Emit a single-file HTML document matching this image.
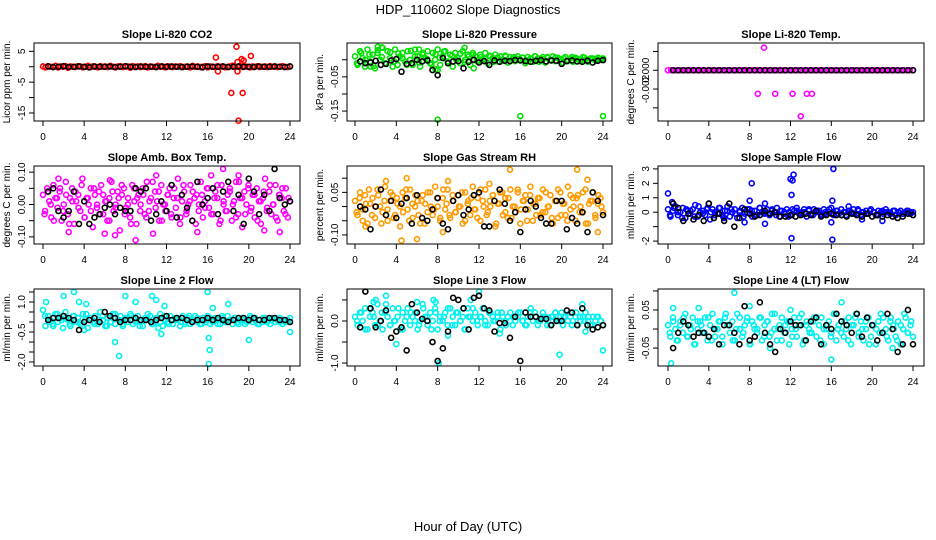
<!DOCTYPE html>
<html><head><meta charset="utf-8"><style>
body{margin:0;background:#fff;}
svg{display:block;font-family:"Liberation Sans",sans-serif;}
</style></head><body>
<svg id="c" width="936" height="540" xmlns="http://www.w3.org/2000/svg">
<text x="468" y="14" text-anchor="middle" font-size="13">HDP_110602  Slope Diagnostics</text>
<text x="468" y="531" text-anchor="middle" font-size="13">Hour of Day (UTC)</text>
</svg>
<script>
const xTicks=[0,4,8,12,16,20,24];
// Panel 1 CO2
const p1Col=[0.1,-0.2,0.2,0.0,-0.1,0.3,-0.2,0.1,0.0,0.2,-0.3,0.1,0.0,-0.1,0.2,0.1,-0.2,0.0,0.3,-0.1,0.1,0.0,-0.2,0.2,0.0,0.1,-0.1,0.3,0.0,-0.2,0.1,0.2,-0.1,0.0,0.1,-0.3,0.2,0.0,0.1,-0.1,0.0,0.2,-0.2,0.1,0.0,-0.1,0.3,0.0,0.1,-0.2,0.2,0.0,-0.1,0.1,0.0,0.2,-0.1,0.0,0.1,-0.2,0.3,0.0,0.1,-0.1,0.0,0.2,-0.2,0.1,0.0,-0.1,0.2,0.0,0.1,-0.2,0.0,0.1,0.3,-0.1,0.0,0.2,-0.1,0.1,0.0,-0.2,0.1,0.0,0.2,-0.1,0.0,0.1,-0.1,0.2,0.0,0.1,-0.1,0.0,0.2,0.0,-0.1,0.1];
const p1Col2=[];
const p1OutH=[16.8,17.0,18.3,18.8,18.9,18.9,19.3,19.4,19.5,20.2,19.0];
const p1OutV=[3,-1.5,-8.5,6.5,1.5,-1.5,2.5,-8.5,2,3.5,-17.5];
const p1Blk=[0.1,-0.1,0,0.2,-0.1,0,0.1,0,-0.2,0.1,0,0,0.1,-0.1,0,0.2,0,-0.1,0.1,0,0,-0.1,0.1,0,0.1,0,-0.1,0,0.1,0,-0.2,0.1,0,0,0.1,-0.1,0,0.1,0,0,-0.1,0.1,0,0,0.1,0,-0.1,0.1];
// Panel 2 Pressure
const p2Col=[0.010,-0.015,0.025,0.005,-0.020,0.030,-0.005,0.015,-0.025,0.020,0.000,0.035,-0.010,0.025,0.005,-0.020,0.030,-0.015,0.010,0.020,-0.005,0.025,0.000,-0.015,0.030,0.010,-0.020,0.015,0.005,0.025,-0.010,0.020,0.000,0.030,-0.015,0.010,0.025,-0.005,0.015,-0.020,0.020,0.005,-0.010,0.025,0.000,0.015,-0.015,0.020,0.010,-0.005,0.015,0.000,0.020,-0.010,0.010,0.005,0.015,-0.005,0.010,0.000,0.012,-0.008,0.008,0.004,-0.004,0.010,0.000,0.006,-0.010,0.008,0.002,-0.006,0.010,0.004,-0.002,0.008,-0.008,0.006,0.000,0.010,-0.004,0.006,0.002,-0.008,0.008,0.000,0.004,-0.006,0.006,0.002,-0.004,0.008,0.000,-0.006,0.004,0.002,-0.002,0.006,0.000,0.004];
const p2Col2=[-0.010,0.020,0.000,0.015,-0.018,0.028,0.008,-0.012,0.022,-0.005,0.018,0.004,-0.015,0.026,0.010,-0.008,0.020,0.002,-0.014,0.016,0.006,0.024,-0.010,0.012,0.000,0.018,-0.006,0.010,0.014,-0.004,0.008,0.002,0.012,-0.006,0.006,0.000,0.010,-0.004,0.008,0.002,0.006,-0.002,0.004,0.010,-0.006,0.002,0.008,-0.002,0.006,0.000,0.004,-0.004,0.008,0.002,0.000,0.006,-0.002,0.004,0.002,0.000];
const p2OutH=[8,16,24,2.2,2.6,6.2,10.6,8,7.8,1.5,11.5];
const p2OutV=[-0.175,-0.165,-0.165,0.038,0.036,0.03,0.035,-0.03,-0.028,-0.02,-0.025];
const p2Blk=[-0.005,-0.01,-0.008,-0.003,-0.015,-0.012,-0.002,0.002,-0.035,-0.012,-0.01,0.0,-0.005,-0.002,-0.03,-0.045,0.005,-0.01,-0.005,-0.004,-0.025,-0.006,0.0,-0.008,-0.004,-0.015,-0.002,-0.006,-0.003,-0.004,-0.001,-0.002,-0.004,-0.006,-0.003,-0.001,-0.005,-0.002,-0.003,-0.012,-0.004,-0.002,-0.005,-0.006,-0.003,-0.008,-0.003,-0.001];
// Panel 3 Temp
const p3Col=[0,0,0,0,0,0,0,0,0,0,0,0,0,0,0,0,0,0,0,0,0,0,0,0,0,0,0,0,0,0,0,0,0,0,0,0,0,0,0,0,0,0,0,0,0,0,0,0,0,0,0,0,0,0,0,0,0,0,0,0,0,0,0,0,0,0,0,0,0,0,0,0,0,0,0,0,0,0,0,0];
const p3Col2=[];
const p3OutH=[8.8,10.5,12.2,13.6,14.1,9.4,13.0];
const p3OutV=[-0.0025,-0.0025,-0.0025,-0.0025,-0.0025,0.0024,-0.0049];
const p3Blk=[0,0,0,0,0,0,0,0,0,0,0,0,0,0,0,0,0,0,0,0,0,0,0,0,0,0,0,0,0,0,0,0,0,0,0,0,0,0,0,0,0,0,0,0,0,0,0,0];
// Panel 4 Amb box temp
const p4Col=[0.03,-0.02,0.05,0.01,-0.04,0.06,0.02,-0.01,0.04,-0.05,0.00,0.07,-0.03,0.02,0.05,-0.06,0.01,0.03,-0.02,0.08,-0.04,0.02,0.00,0.05,-0.07,0.03,-0.01,0.04,0.06,-0.03,0.01,-0.05,0.02,0.07,-0.02,0.00,0.04,-0.08,0.03,0.05,-0.01,0.02,-0.04,0.06,0.01,-0.06,0.03,0.00,0.05,-0.03,0.07,-0.02,0.02,-0.09,0.04,0.01,-0.05,0.06,0.00,-0.02,0.03,0.05,-0.04,0.02,-0.01,0.08,-0.06,0.01,0.04,-0.03,0.00,0.06,-0.05,0.02,0.03,-0.02,0.07,-0.04,0.01,0.05,-0.01,0.09,-0.03,0.04,0.02,-0.06,0.06,0.00,-0.02,0.03,0.05,-0.05,0.01,0.07,-0.03,0.02,-0.07,0.04,0.00,0.06,-0.02,0.03,-0.04,0.05,0.01,-0.06,0.02,0.08,-0.01,0.04,-0.03,0.00,0.06,-0.05,0.03,0.02,-0.02,0.05,-0.04,0.01];
const p4Col2=[-0.03,0.04,0.00,-0.05,0.02,0.05,-0.02,0.03,-0.06,0.01,0.04,-0.01,0.06,-0.04,0.02,-0.02,0.05,0.00,-0.03,0.03,0.01,-0.05,0.04,-0.01,0.02,0.06,-0.03,0.00,-0.06,0.05,0.02,-0.02,0.03,-0.04,0.01,0.07,-0.01,0.04,-0.05,0.00,0.03,-0.03,0.05,0.02,-0.04,0.06,-0.02,0.01,0.04,-0.06,0.00,0.03,-0.01,0.05,-0.03,0.02,0.06,-0.05,0.01,-0.02,0.04,0.00,-0.04,0.07,0.02,-0.03,0.05,-0.01,0.03,-0.05,0.01,0.04,-0.02,0.06,0.00,-0.04,0.03,0.05,-0.03,0.02];
const p4OutH=[2.5,6,7,9,11,15,17.5,21.5,6.5,1.5,19,23];
const p4OutV=[-0.085,-0.09,-0.095,-0.11,0.09,-0.085,0.11,-0.08,0.075,0.08,0.09,-0.085];
const p4Blk=[0.04,0.05,-0.02,-0.04,-0.02,0.04,-0.06,0.01,-0.06,-0.04,-0.03,-0.01,0.00,-0.03,-0.01,-0.02,-0.02,0.05,0.04,0.05,-0.05,-0.03,0.01,-0.02,0.06,-0.04,0.03,-0.01,-0.05,0.07,0.00,0.02,0.05,-0.03,0.04,0.07,-0.02,0.03,-0.06,0.08,0.04,-0.03,0.03,-0.02,0.11,0.02,0.00,0.01];
// Panel 5 RH
const p5Col=[0.02,-0.03,0.05,-0.01,0.04,-0.06,0.01,0.03,-0.04,0.06,0.00,-0.02,0.07,-0.05,0.02,0.04,-0.03,0.01,-0.07,0.05,0.03,-0.01,0.06,-0.04,0.00,0.02,-0.06,0.04,0.01,-0.02,0.05,-0.03,0.07,0.00,-0.05,0.03,-0.01,0.06,-0.04,0.02,-0.02,0.04,0.00,-0.06,0.05,0.01,-0.03,0.07,-0.01,0.03,-0.05,0.02,0.06,-0.02,0.00,0.04,-0.07,0.01,0.05,-0.03,0.03,-0.04,0.06,0.00,-0.02,0.05,-0.06,0.02,0.04,-0.01,0.07,-0.05,0.01,0.03,-0.03,0.06,-0.02,0.00,0.04,-0.06,0.02,-0.04,0.05,0.01,-0.03,0.07,-0.01,0.03,-0.05,0.04,0.00,-0.02,0.06,-0.06,0.02,0.05,-0.04,0.01,0.03,-0.02];
const p5Col2=[-0.02,0.03,-0.05,0.01,0.06,-0.03,0.00,0.04,-0.06,0.02,-0.01,0.05,-0.04,0.03,0.00,-0.02,0.06,-0.05,0.01,0.04,-0.03,0.02,-0.06,0.05,0.00,-0.01,0.03,-0.04,0.06,0.01,-0.03,0.04,-0.02,0.00,0.05,-0.05,0.02,0.03,-0.01,-0.04,0.06,0.00,-0.03,0.02,0.04,-0.06,0.01,0.05,-0.02,0.03,-0.04,0.00,0.06,-0.01,0.02,-0.05,0.04,0.01,-0.03,0.03,-0.02,0.05,0.00,-0.04,0.02,0.06,-0.03,0.01,-0.05,0.04,0.00,0.03,-0.02,0.05,-0.06,0.01,0.02,-0.03,0.04,0.00];
const p5OutH=[3,4.5,5,6,9,8.5,15,21.5,22.5,23.5,1,13];
const p5OutV=[0.09,-0.12,0.1,-0.115,0.09,-0.09,0.13,0.13,0.095,-0.09,-0.07,0.08];
const p5Blk=[0.00,-0.01,-0.08,0.00,0.06,-0.03,0.02,-0.04,0.01,0.03,-0.06,0.04,-0.04,-0.05,-0.01,0.03,-0.06,-0.08,0.02,0.04,-0.03,-0.01,0.04,0.05,-0.07,-0.07,0.02,0.06,0.01,-0.05,-0.02,-0.09,-0.01,0.02,0.00,-0.04,-0.06,-0.06,0.02,0.02,-0.08,-0.04,-0.06,-0.02,-0.09,0.05,0.02,-0.03];
// Panel 6 Sample flow
const p6Col=[0.2,-0.3,0.1,0.4,-0.2,0.0,0.3,-0.4,0.1,-0.1,0.2,0.5,-0.3,0.0,0.1,-0.2,0.3,-0.5,0.2,0.0,-0.1,0.3,-0.2,0.1,0.4,-0.3,0.0,0.2,-0.4,0.1,0.3,-0.1,0.0,0.2,-0.3,0.1,-0.2,0.3,0.0,-0.1,0.2,-0.2,0.1,0.0,0.3,-0.3,0.1,-0.1,0.2,0.0,-0.2,0.1,0.3,-0.1,0.0,0.2,-0.3,0.1,-0.1,0.2,0.0,0.1,-0.2,0.2,-0.1,0.0,0.3,-0.2,0.1,-0.1,0.2,0.0,-0.2,0.1,0.0,0.2,-0.1,0.1,-0.2,0.0,0.1,-0.1,0.2,0.0,-0.2,0.1,0.0,-0.1,0.2,0.0,-0.1,0.1,-0.2,0.0,0.1,-0.1,0.0,0.1,-0.1,0.0];
const p6Col2=[-0.2,0.3,0.0,-0.4,0.2,0.1,-0.3,0.4,-0.1,0.2,0.0,-0.2,0.3,-0.3,0.1,0.2,-0.1,0.0,-0.3,0.2,0.1,-0.2,0.3,0.0,-0.1,0.2,-0.2,0.1,0.0,-0.3,0.2,0.1,-0.1,0.0,0.2,-0.2,0.1,-0.1,0.0,0.2,-0.1,0.1,-0.2,0.0,0.1,-0.1,0.2,0.0,-0.1,0.1,0.0,-0.2,0.1,0.0,-0.1,0.1,0.0,-0.1,0.1,0.0];
const p6OutH=[0,0.4,8.2,8,12,12.3,12.2,12.1,12.1,16,16.2,16.1,16.1,9.5,4,5.5,7.5,9.5,17.7,19,21];
const p6OutV=[1.3,0.7,2.0,0.8,2.3,2.6,2.2,1.2,-1.8,-0.7,3.0,-1.9,0.8,0.6,0.6,-0.4,-0.7,-0.8,0.4,-0.5,-0.6];
const p6Blk=[0.6,0.3,-0.6,-0.1,-0.5,-0.2,-0.6,0.6,-0.4,-0.1,-0.6,0.6,-1.0,-0.4,0.2,-0.1,-0.3,-0.2,0.1,-0.1,0.0,-0.3,-0.3,-0.2,-0.3,-0.2,-0.1,-0.2,0.1,-0.3,-0.2,-0.1,-0.2,-0.2,-0.3,-0.1,-0.2,-0.3,-0.1,-0.3,-0.2,-0.3,-0.2,-0.3,-0.4,-0.3,-0.1,-0.2];
// Panel 7 Line 2 flow
const p7Col=[0.6,-0.2,0.3,0.1,-0.1,0.4,0.0,0.2,-0.3,0.5,0.1,-0.2,0.3,0.0,0.2,-0.1,0.4,0.1,-0.3,0.2,0.0,0.3,-0.1,0.5,0.1,-0.2,0.2,0.0,0.4,-0.1,0.1,0.3,-0.2,0.2,0.0,0.4,-0.1,0.1,0.3,0.0,-0.2,0.2,0.1,0.3,-0.1,0.0,0.2,0.4,-0.2,0.1,0.0,0.3,-0.1,0.2,0.1,-0.2,0.3,0.0,0.2,-0.1,0.1,0.3,0.0,-0.1,0.2,0.1,0.3,-0.1,0.0,0.2,0.1,-0.1,0.2,0.0,0.3,0.1,-0.1,0.2,0.0,0.1,0.2,-0.1,0.1,0.3,0.0,0.2,-0.1,0.1,0.0,0.2,0.1,-0.1,0.2,0.0,0.1,0.2,-0.1,0.0,0.1,0.2];
const p7Col2=[0.3,0.0,-0.2,0.4,0.1,0.2,-0.1,0.3,0.0,-0.2,0.4,0.2,-0.1,0.1,0.3,-0.2,0.0,0.4,0.1,-0.1,0.2,0.3,0.0,-0.2,0.1,0.4,-0.1,0.2,0.0,0.3,-0.1,0.1,0.2,0.0,-0.1,0.3,0.1,0.2,-0.1,0.0,0.2,0.1,-0.1,0.3,0.0,0.1,0.2,-0.1,0.1,0.0,0.2,0.1,-0.1,0.2,0.0,0.1,0.2,0.0,0.1,0.0];
const p7OutH=[0.3,2,3,3.5,4,4.2,7,7.4,8,9,10.6,11,11.5,11.2,16,16.1,16.2,16.1,16.5,18,20,24,11.8];
const p7OutV=[1.0,1.3,1.5,1.0,-0.4,0.9,-1.0,-1.7,1.3,1.0,1.3,1.1,-0.6,-0.3,1.5,-0.8,-1.4,-2.1,0.7,0.9,-0.9,-0.5,0.8];
const p7Blk=[0.1,0.2,0.2,0.3,0.2,0.1,-0.4,0.0,0.1,0.2,0.0,0.5,0.3,0.2,0.0,0.1,0.1,0.2,0.1,0.1,0.0,0.1,0.2,0.3,0.1,0.2,0.2,0.1,0.0,0.1,0.1,0.2,0.1,0.2,0.1,0.0,0.1,0.2,0.2,0.1,0.2,0.1,0.1,0.2,0.2,0.1,0.1,0.0];
// Panel 8 Line 3 flow
const p8Col=[0.1,-0.1,0.2,0.0,0.3,-0.2,0.1,0.2,-0.1,0.4,0.0,-0.2,0.2,0.1,-0.1,0.3,0.0,0.1,-0.2,0.2,0.0,0.3,-0.1,0.1,0.2,-0.2,0.0,0.4,0.1,-0.1,0.2,0.0,0.3,-0.2,0.1,0.0,0.2,-0.1,0.3,0.1,-0.1,0.2,0.0,0.1,-0.2,0.3,0.1,0.0,0.2,-0.1,0.1,0.3,0.0,-0.1,0.2,0.1,0.0,0.2,-0.2,0.1,0.0,0.1,0.2,-0.1,0.0,0.1,0.2,0.0,-0.1,0.1,0.2,0.0,0.1,-0.1,0.0,0.2,0.1,0.0,-0.1,0.1,0.2,0.0,0.1,-0.1,0.1,0.0,0.2,0.0,0.1,-0.1,0.0,0.1,0.2,0.0,-0.1,0.1,0.0,0.1,0.0,-0.1];
const p8Col2=[0.0,0.2,-0.2,0.3,0.1,-0.1,0.2,0.4,-0.1,0.0,0.3,-0.2,0.1,0.2,0.0,-0.1,0.3,0.1,-0.2,0.2,0.0,0.1,0.3,-0.1,0.2,0.0,-0.2,0.1,0.3,0.0,0.1,-0.1,0.2,0.0,0.1,0.2,-0.1,0.0,0.1,0.2,0.0,-0.1,0.1,0.2,0.0,0.1,-0.1,0.1,0.2,0.0,0.1,0.0,-0.1,0.2,0.1,0.0,0.1,-0.1,0.1,0.0];
const p8OutH=[2,1.8,3,4,6,7.6,7.8,8.1,9,11.2,12,13,14,17,19.8,20,22,22.3,24,10.5];
const p8OutV=[0.5,0.45,0.6,-0.55,0.45,0.5,0.45,-1.0,-0.35,0.5,0.7,0.2,-0.3,0.3,-0.8,0.2,0.4,-0.25,-0.7,0.3];
const p8Blk=[-0.15,0.7,0.3,-0.15,0.0,0.25,-0.4,-0.25,-0.15,-0.7,0.4,0.2,0.05,0.0,-0.5,-0.95,-0.65,-0.25,0.55,0.5,0.3,-0.2,0.55,0.6,0.3,0.25,-0.25,-0.05,-0.05,-0.4,0.1,-0.95,0.2,0.1,0.1,0.05,0.05,-0.1,0.0,0.0,0.25,0.2,-0.1,0.3,-0.1,-0.2,-0.15,-0.1];
// Panel 9 Line 4 flow
const p9Col=[0.01,-0.02,0.03,0.00,-0.03,0.02,-0.01,0.04,-0.02,0.01,0.03,-0.04,0.00,0.02,-0.01,0.03,-0.03,0.01,0.04,-0.02,0.00,0.02,-0.04,0.03,0.01,-0.01,0.02,-0.03,0.04,0.00,-0.02,0.01,0.03,-0.04,0.02,0.00,-0.01,0.03,-0.03,0.01,0.02,-0.02,0.04,0.00,-0.03,0.01,0.03,-0.01,0.02,-0.04,0.00,0.03,-0.02,0.01,0.04,-0.03,0.02,0.00,-0.01,0.03,-0.02,0.01,0.03,-0.04,0.00,0.02,-0.01,0.04,-0.03,0.01,0.02,-0.02,0.00,0.03,-0.04,0.01,0.04,-0.01,0.02,-0.03,0.00,0.03,-0.02,0.01,-0.04,0.02,0.04,-0.01,0.00,-0.03,0.03,0.01,-0.02,0.02,-0.04,0.00,0.03,-0.01,0.01,-0.02];
const p9Col2=[-0.01,0.02,-0.03,0.01,0.03,-0.02,0.00,-0.04,0.02,0.01,-0.01,0.03,-0.03,0.00,0.02,-0.02,0.04,0.01,-0.03,0.00,0.03,-0.01,0.02,-0.04,0.01,0.00,0.03,-0.02,0.02,-0.01,0.04,0.00,-0.03,0.01,0.02,-0.02,0.00,0.03,-0.04,0.01,-0.01,0.02,0.03,-0.03,0.00,0.01,-0.02,0.04,0.00,-0.01,0.02,-0.03,0.01,0.03,-0.02,0.00,0.02,-0.04,0.01,0.00,-0.01,0.03,-0.02,0.02,0.00,-0.03,0.01,0.04,-0.01,0.02];
const p9OutH=[0.3,0.5,3,6.5,8,10,16,17,12,22];
const p9OutV=[-0.09,0.055,0.055,0.095,0.06,-0.05,-0.08,0.07,0.05,-0.05];
const p9Blk=[-0.05,-0.01,0.02,0.01,-0.02,-0.01,-0.01,-0.02,0.00,-0.04,0.01,0.01,-0.01,-0.04,0.06,-0.03,-0.02,0.07,-0.01,-0.04,-0.06,0.00,-0.01,0.02,0.01,0.01,-0.03,0.02,0.03,-0.04,0.01,0.00,0.04,0.02,0.01,-0.01,0.04,-0.02,0.03,0.01,-0.03,-0.01,0.04,0.00,-0.06,-0.04,0.05,-0.04];
// y tick values and labels
const p1Ticks=[5,0,-5,-10,-15]; const p1Labels=["5","","-5","","-15"];
const p2Ticks=[0,-0.05,-0.10,-0.15]; const p2Labels=["","-0.05","","-0.15"];
const p3Ticks=[0.002,0,-0.002,-0.004]; const p3Labels=["","0.000","-0.002",""];
const p4Ticks=[0.10,0.05,0,-0.05,-0.10]; const p4Labels=["0.10","","0.00","","-0.10"];
const p5Ticks=[0.10,0.05,0,-0.05,-0.10]; const p5Labels=["","0.05","","","-0.10"];
const p6Ticks=[3,2,1,0,-1,-2]; const p6Labels=["3","2","1","0","","-2"];
const p7Ticks=[1.5,1.0,0.5,0,-0.5,-1.0,-1.5,-2.0]; const p7Labels=["","1.0","","","-0.5","","","-2.0"];
const p8Ticks=[0.5,0,-0.5,-1.0]; const p8Labels=["","0.0","","-1.0"];
const p9Ticks=[0.10,0.05,0,-0.05]; const p9Labels=["","0.05","","-0.05"];

const NS="http://www.w3.org/2000/svg";
const svg=document.getElementById('c');
function mk(tag,attrs,parent){const e=document.createElementNS(NS,tag);for(const k in attrs)e.setAttribute(k,attrs[k]);(parent||svg).appendChild(e);return e;}
const cols=[{L:34,R:300,x0:43,x1:290},{L:347,R:612,x0:355,x1:603},{L:658,R:924,x0:668,x1:913}];
const rows=[{T:43,B:121},{T:166,B:244},{T:289,B:366}];
const panels=[
{title:"Slope Li-820 CO2",ylab:"Licor ppm per min.",col:"#ff0000",c:p1Col,c2:p1Col2,oh:p1OutH,ov:p1OutV,b:p1Blk,t:p1Ticks,tl:p1Labels,ymin:-17.6,ymax:7.7},
{title:"Slope Li-820 Pressure",ylab:"kPa per min.",col:"#00e000",c:p2Col,c2:p2Col2,oh:p2OutH,ov:p2OutV,b:p2Blk,t:p2Ticks,tl:p2Labels,ymin:-0.179,ymax:0.049},
{title:"Slope Li-820 Temp.",ylab:"degrees C per min.",col:"#ff00ff",c:p3Col,c2:p3Col2,oh:p3OutH,ov:p3OutV,b:p3Blk,t:p3Ticks,tl:p3Labels,ymin:-0.0054,ymax:0.0029},
{title:"Slope Amb. Box Temp.",ylab:"degrees C per min.",col:"#ff00ff",c:p4Col,c2:p4Col2,oh:p4OutH,ov:p4OutV,b:p4Blk,t:p4Ticks,tl:p4Labels,ymin:-0.122,ymax:0.119},
{title:"Slope Gas Stream RH",ylab:"percent per min.",col:"#ff9a00",c:p5Col,c2:p5Col2,oh:p5OutH,ov:p5OutV,b:p5Blk,t:p5Ticks,tl:p5Labels,ymin:-0.132,ymax:0.143},
{title:"Slope Sample Flow",ylab:"ml/min per min.",col:"#0000ff",c:p6Col,c2:p6Col2,oh:p6OutH,ov:p6OutV,b:p6Blk,t:p6Ticks,tl:p6Labels,ymin:-2.2,ymax:3.2},
{title:"Slope Line 2 Flow",ylab:"ml/min per min.",col:"#00f0f0",c:p7Col,c2:p7Col2,oh:p7OutH,ov:p7OutV,b:p7Blk,t:p7Ticks,tl:p7Labels,ymin:-2.2,ymax:1.65},
{title:"Slope Line 3 Flow",ylab:"ml/min per min.",col:"#00f0f0",c:p8Col,c2:p8Col2,oh:p8OutH,ov:p8OutV,b:p8Blk,t:p8Ticks,tl:p8Labels,ymin:-1.07,ymax:0.76},
{title:"Slope Line 4 (LT) Flow",ylab:"ml/min per min.",col:"#00f0f0",c:p9Col,c2:p9Col2,oh:p9OutH,ov:p9OutV,b:p9Blk,t:p9Ticks,tl:p9Labels,ymin:-0.097,ymax:0.105}
];
panels.forEach((p,i)=>{
  const C=cols[i%3],Rw=rows[Math.floor(i/3)];
  const g=mk('g',{});
  
  
  const xs=h=>C.x0+(C.x1-C.x0)*h/24;
  const ys=v=>Rw.B-(Rw.B-Rw.T)*(v-p.ymin)/(p.ymax-p.ymin);
  const t=mk('text',{x:(C.L+C.R)/2,y:Rw.T-5,'text-anchor':'middle','font-size':11,'font-weight':'bold'},g);
  t.textContent=p.title;
  
  
  const pts=mk('g',{fill:'none','stroke-width':1.6},g);
  
  
  const n=p.c.length;
  p.c.forEach((v,k)=>{const e=mk('circle',{cx:xs(k*24/(n-1)),cy:ys(v),r:2.5,stroke:p.col},pts);
    
    });
  const n2=p.c2.length;
  p.c2.forEach((v,k)=>{const e=mk('circle',{cx:xs((k+0.5)*24/n2),cy:ys(v),r:2.5,stroke:p.col},pts);
    
    });
  p.ov.forEach((v,k)=>{const e=mk('circle',{cx:xs(p.oh[k]),cy:ys(v),r:2.5,stroke:p.col},pts);
    
    });
  const m=p.b.length;
  p.b.forEach((v,k)=>{const e=mk('circle',{cx:xs(0.5+k*23.5/(m-1)),cy:ys(v),r:2.5,stroke:'#000'},pts);
    
    });
  const box=mk('rect',{x:C.L,y:Rw.T,width:C.R-C.L,height:Rw.B-Rw.T,fill:'none',stroke:'#000','stroke-width':1},g);
  
  
  xTicks.forEach(h=>{const x=xs(h);mk('line',{x1:x,x2:x,y1:Rw.B,y2:Rw.B+5,stroke:'#000'},g);
    const l=mk('text',{x:x,y:Rw.B+19,'text-anchor':'middle','font-size':10},g);l.textContent=h;
    
    });
  p.t.forEach((v,k)=>{const y=ys(v);mk('line',{x1:C.L-5,x2:C.L,y1:y,y2:y,stroke:'#000'},g);
    if(p.tl[k]){const l=mk('text',{x:0,y:0,'text-anchor':'middle','font-size':10,transform:`translate(${C.L-9},${y}) rotate(-90)`},g);l.textContent=p.tl[k];
    
    }});
  const yl=mk('text',{x:0,y:0,'text-anchor':'middle','font-size':10,transform:`translate(${C.L-24},${(Rw.T+Rw.B)/2}) rotate(-90)`},g);
  yl.textContent=p.ylab;
  
  
});
</script>
</body></html>
